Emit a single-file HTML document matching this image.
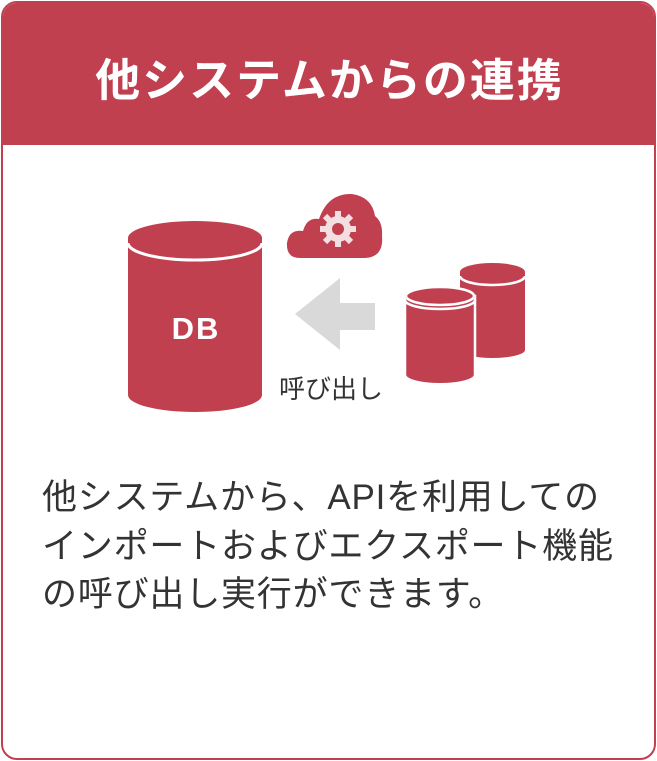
<!DOCTYPE html>
<html><head><meta charset="utf-8"><style>
html,body{margin:0;padding:0;background:#fff;}
body{width:657px;height:761px;position:relative;overflow:hidden;font-family:"Liberation Sans","Noto Sans CJK JP",sans-serif;}
.card{position:absolute;left:1px;top:1px;width:651px;height:755px;border:2px solid #c04050;border-radius:16px;overflow:hidden;background:#fff;}
.hdr{position:absolute;left:0;top:0;width:100%;height:142px;background:#c04050;}
.title{position:absolute;left:0;width:100%;top:50px;text-align:center;color:#fff;font-size:45px;font-weight:bold;letter-spacing:2px;line-height:56px;padding-left:2px;box-sizing:border-box;}
.txt{position:absolute;left:42px;top:474px;color:#333;font-size:35px;line-height:48.5px;letter-spacing:0.8px;white-space:nowrap;}
</style></head><body>
<div class="card"><div class="hdr"><div class="title">他システムからの連携</div></div></div>
<svg width="657" height="761" style="position:absolute;left:0;top:0">
 <g fill="#c04050">
  <path d="M128 238 L128 395 A67 17 0 0 0 262 395 L262 238 Z"/>
  <ellipse cx="195" cy="238" rx="67" ry="17"/>
  <path d="M128 243 A67 17 0 0 0 262 243" fill="none" stroke="#fff" stroke-width="3"/>
  <path d="M460 272 L460 350 A32.5 8 0 0 0 525 350 L525 272 Z"/>
  <ellipse cx="492.5" cy="272" rx="32.5" ry="9"/>
  <path d="M460 276 A32.5 9 0 0 0 525 276" fill="none" stroke="#fff" stroke-width="2.5"/>
  <path d="M405 296 L405 375 A34 9 0 0 0 475 375 L475 296 Z" stroke="#fff" stroke-width="2.5"/>
  <ellipse cx="440" cy="296" rx="34" ry="9" stroke="#fff" stroke-width="2.5"/>
  <path d="M405 300 A35 9 0 0 0 475 300" fill="none" stroke="#fff" stroke-width="2.5"/>
  <path d="M300 258 Q286 258 287 243 Q289 229 303 231 Q307 217 319 219 Q328 193 352 194 Q372 197 375 216 Q383 222 382 236 Q384 257 365 258 Z"/>
 </g>
 <g fill="#f3dfe2">
  <circle cx="338" cy="229" r="13"/>
  <g stroke="#f3dfe2" stroke-width="6">
   <line x1="338" y1="211" x2="338" y2="247"/><line x1="320" y1="229" x2="356" y2="229"/>
   <line x1="325" y1="216" x2="351" y2="242"/><line x1="351" y1="216" x2="325" y2="242"/>
  </g>
  <circle cx="338" cy="229" r="6" fill="#c04050"/>
 </g>
 <path d="M295 314 L340 278 L340 303 L375 303 L375 330 L340 330 L340 350 Z" fill="#d9d9d9"/>
 <text x="196" y="339" text-anchor="middle" fill="#fff" font-size="31" font-weight="bold" font-family="Liberation Sans,sans-serif" letter-spacing="2">DB</text>
 <text x="279" y="398" fill="#333" font-size="26" font-family="Liberation Sans,Noto Sans CJK JP,sans-serif">呼び出し</text>
</svg>
<div class="txt">他システムから、APIを利用しての<br>インポートおよびエクスポート機能<br>の呼び出し実行ができます。</div>
</body></html>
